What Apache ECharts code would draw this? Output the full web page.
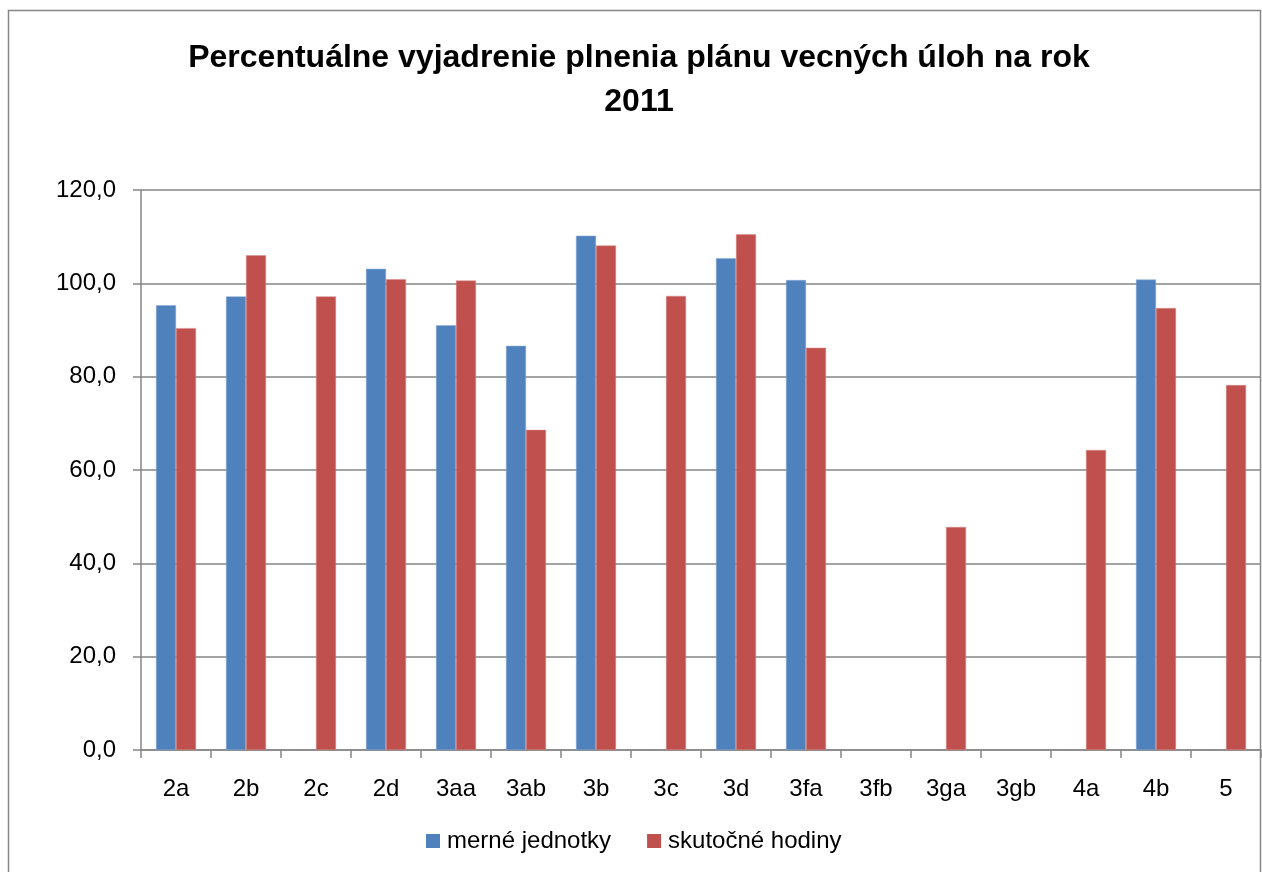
<!DOCTYPE html>
<html>
<head>
<meta charset="utf-8">
<script src="https://cdn.jsdelivr.net/npm/echarts@6/dist/echarts.min.js"></script>
<style>
  html, body { margin: 0; padding: 0; background: #fff; }
  #chart { width: 1262px; height: 872px; }
</style>
</head>
<body>
<div id="chart"></div>
<script>
var categories = ['2a', '2b', '2c', '2d', '3aa', '3ab', '3b', '3c', '3d', '3fa', '3fb', '3ga', '3gb', '4a', '4b', '5'];
var merneJednotky = [95.3, 97.2, null, 103.1, 91.0, 86.6, 110.2, null, 105.4, 100.7, null, null, null, null, 100.8, null];
var skutocneHodiny = [90.4, 106.0, 97.2, 100.9, 100.6, 68.6, 108.1, 97.3, 110.5, 86.2, null, 47.8, null, 64.3, 94.7, 78.2];

var chartDom = document.getElementById('chart');
var myChart = echarts.init(chartDom);
var font = '"Liberation Sans", Arial, sans-serif';
var gray = '#868686';

var option = {
  animation: false,
  graphic: [
    {
      type: 'rect',
      shape: { x: 8.5, y: 10.5, width: 1252, height: 900 },
      style: { fill: 'none', stroke: gray, lineWidth: 1.5 },
      silent: true
    }
  ],
  title: {
    text: 'Percentuálne vyjadrenie plnenia plánu vecných úloh na rok\n2011',
    left: 634,
    textAlign: 'center',
    top: 31,
    textStyle: {
      fontFamily: font,
      fontSize: 32,
      fontWeight: 'bold',
      color: '#000',
      lineHeight: 44
    }
  },
  legend: {
    data: ['merné jednotky', 'skutočné hodiny'],
    left: 426,
    top: 829,
    padding: 0,
    itemWidth: 14,
    itemHeight: 14,
    itemGap: 36,
    icon: 'rect',
    itemStyle: { borderWidth: 0 },
    textStyle: { fontFamily: font, fontSize: 24, color: '#000', padding: [0, 0, 0, 2] }
  },
  grid: { left: 141, right: 1, top: 190, bottom: 122 },
  xAxis: {
    type: 'category',
    data: categories,
    axisLine: { lineStyle: { color: gray, width: 1.5 } },
    axisTick: { show: true, length: 8, lineStyle: { color: gray, width: 1.5 } },
    axisLabel: { fontFamily: font, fontSize: 24, color: '#000', margin: 27 }
  },
  yAxis: {
    type: 'value',
    min: 0,
    max: 120,
    interval: 20,
    axisLine: { show: true, lineStyle: { color: gray, width: 1.5 } },
    axisTick: { show: true, length: 8, lineStyle: { color: gray, width: 1.5 } },
    splitLine: { lineStyle: { color: gray, width: 1.5 } },
    axisLabel: {
      fontFamily: font,
      fontSize: 24,
      color: '#000',
      margin: 25,
      formatter: function (v) { return v.toFixed(1).replace('.', ','); }
    }
  },
  series: [
    {
      name: 'merné jednotky',
      type: 'bar',
      data: merneJednotky,
      barWidth: 20,
      barGap: '0%',
      itemStyle: { color: '#4F81BD', borderColor: '#8aa9d6', borderWidth: 0.5 }
    },
    {
      name: 'skutočné hodiny',
      type: 'bar',
      data: skutocneHodiny,
      barWidth: 20,
      barGap: '0%',
      itemStyle: { color: '#C0504D', borderColor: '#d98c8a', borderWidth: 0.5 }
    }
  ]
};

option && myChart.setOption(option);
</script>
</body>
</html>
